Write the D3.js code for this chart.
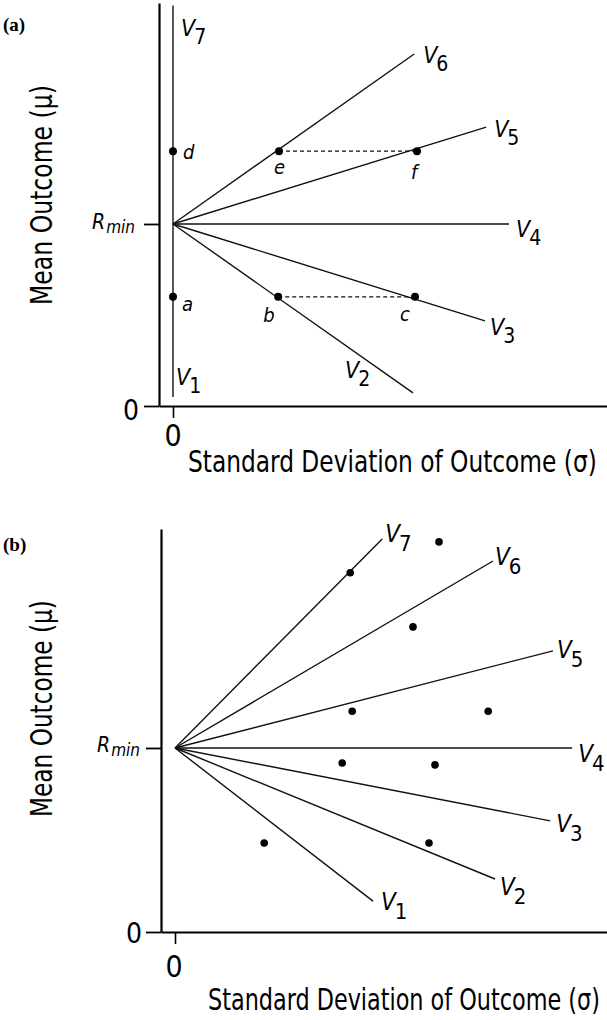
<!DOCTYPE html>
<html>
<head>
<meta charset="utf-8">
<script src="https://cdn.jsdelivr.net/npm/d3@7/dist/d3.min.js"></script>
<style>
  html, body { margin: 0; padding: 0; background: #fff; }
  svg { display: block; }
  .nar { font-family: "Liberation Sans Narrow", "Arial Narrow", "DejaVu Sans Condensed", "Liberation Sans", sans-serif; font-stretch: condensed; }
</style>
</head>
<body>
<svg id="chart" width="607" height="1020"></svg>
<script>
// ---------- data ----------
const rMin = 5;
const lineNames = ["1", "2", "3", "4", "5", "6", "7"]; // subscripts of V
// Panel (a): end points of each line (start is (0, rMin))
const aLineEndX = [0, 6.0, 7.8, 8.4, 7.83, 6.03, 0];
const aLineEndY = [0.25, 0.36, 2.34, 5, 7.66, 9.67, 11.0];
const aPointLabels = ["a", "b", "c", "d", "e", "f"];
const aPointX = [0, 2.63, 6.05, 0, 2.65, 6.1];
const aPointY = [3, 3, 3, 7, 7, 7];
const aDashedPairs = [["b", "c"], ["e", "f"]];
// Panel (b)
const bLineEndX = [4.95, 8.0, 9.38, 9.93, 9.45, 7.95, 5.18];
const bLineEndY = [0.84, 1.44, 3.02, 5.0, 7.64, 10.08, 10.68];
const bDotX = [4.38, 6.6, 5.95, 4.43, 7.83, 4.18, 6.5, 6.35, 2.23];
const bDotY = [9.76, 10.6, 8.29, 6.0, 6.0, 4.59, 4.54, 2.42, 2.42];
const xTickValues = [0];
const yTickValues = [0, rMin];
const xTitle = "Standard Deviation of Outcome (σ)";
const yTitle = "Mean Outcome (μ)";

// ---------- layout / styles ----------
const svg = d3.select("#chart");

const panels = [
  {
    tag: "(a)", tagPos: [3, 31],
    x: d3.scaleLinear().domain([-0.35, 10.85]).range([159, 607]),
    y: d3.scaleLinear().domain([0, 11.07]).range([406, 3]),
    endX: aLineEndX, endY: aLineEndY,
    lblOff: [[3, -12], [-68, -15], [5, 14], [7, 13], [8, 10], [9, 9], [8, 30]],
    vSize: 23, subSize: 21, subDy: 8,
    xTitlePos: [188, 472, 409], yTitlePos: [52, 305, 220],
    yZeroLbl: [139, 420], xZeroLbl: [173, 446],
    rminLbl: [92, 229]
  },
  {
    tag: "(b)", tagPos: [3, 551],
    x: d3.scaleLinear().domain([-0.35, 10.8]).range([161, 607]),
    y: d3.scaleLinear().domain([0, 10.95]).range([932, 529]),
    endX: bLineEndX, endY: bLineEndY,
    lblOff: [[8, 9], [5, 16], [6, 11], [6, 14], [4, 7], [2, 4], [3, 3]],
    vSize: 24, subSize: 22, subDy: 9,
    xTitlePos: [208, 1010, 392], yTitlePos: [52, 817, 217],
    yZeroLbl: [142, 943], xZeroLbl: [174, 977],
    rminLbl: [97, 752]
  }
];

// squeeze a text horizontally (in its own frame) to a target length
function fitText(sel, tx, ty, rot, target) {
  const w = sel.node().getComputedTextLength();
  const k = target / w;
  sel.attr("transform", `translate(${tx},${ty}) rotate(${rot}) scale(${k},1)`);
}

function drawPanel(p, idx) {
  const g = svg.append("g");
  const x = p.x, y = p.y;

  // panel tag
  g.append("text").attr("x", p.tagPos[0]).attr("y", p.tagPos[1])
    .style("font-family", "'Liberation Serif', 'DejaVu Serif', serif").attr("font-weight", "bold")
    .attr("font-size", 19).text(p.tag);

  // y axis
  const yAxis = d3.axisLeft(y).tickValues(yTickValues).tickSize(15).tickSizeOuter(0).tickFormat(() => "");
  const ya = g.append("g").attr("transform", `translate(${x(-0.35)},0)`).call(yAxis);
  ya.select(".domain").attr("stroke-width", 2.2);
  ya.selectAll(".tick line").attr("stroke-width", 1.8);

  // x axis
  const xAxis = d3.axisBottom(x).tickValues(xTickValues).tickSize(12).tickSizeOuter(0).tickFormat(() => "");
  const xa = g.append("g").attr("transform", `translate(0,${y(0)})`).call(xAxis);
  xa.select(".domain").attr("stroke-width", 2.2);
  xa.selectAll(".tick line").attr("stroke-width", 1.6);

  // tick labels
  g.append("text").attr("class", "nar").attr("x", p.yZeroLbl[0]).attr("y", p.yZeroLbl[1])
    .attr("text-anchor", "end").attr("font-size", 28).text("0");
  g.append("text").attr("class", "nar").attr("x", p.xZeroLbl[0]).attr("y", p.xZeroLbl[1])
    .attr("text-anchor", "middle").attr("font-size", 30).text("0");
  const rl = g.append("text").attr("class", "nar").attr("x", p.rminLbl[0]).attr("y", p.rminLbl[1])
    .attr("font-style", "italic");
  rl.append("tspan").attr("font-size", 21).text("R");
  rl.append("tspan").attr("font-size", 17).attr("dy", 4).attr("dx", 1).text("min");

  // titles
  const xt = g.append("text").attr("class", "nar").attr("font-size", 30).text(xTitle);
  fitText(xt, p.xTitlePos[0], p.xTitlePos[1], 0, p.xTitlePos[2]);
  const yt = g.append("text").attr("class", "nar").attr("font-size", 30).text(yTitle);
  fitText(yt, p.yTitlePos[0], p.yTitlePos[1], -90, p.yTitlePos[2]);

  // lines
  const lines = lineNames.map((n, i) => ({ n, ex: p.endX[i], ey: p.endY[i], off: p.lblOff[i] }));
  g.selectAll("line.v").data(lines).join("line").attr("class", "v")
    .attr("x1", x(0)).attr("y1", y(rMin))
    .attr("x2", d => x(d.ex)).attr("y2", d => y(d.ey))
    .attr("stroke", "#111").attr("stroke-width", 1.4);

  const lbl = g.selectAll("text.vl").data(lines).join("text").attr("class", "vl nar")
    .attr("x", d => x(d.ex) + d.off[0]).attr("y", d => y(d.ey) + d.off[1]);
  lbl.append("tspan").attr("font-style", "italic").attr("font-size", p.vSize).text("V");
  lbl.append("tspan").attr("font-size", p.subSize).attr("dy", p.subDy).attr("dx", -1).text(d => d.n);
}

panels.forEach(drawPanel);

// ---- panel (a) points ----
(function () {
  const p = panels[0], x = p.x, y = p.y;
  const pts = aPointLabels.map((l, i) => ({ l, x: aPointX[i], y: aPointY[i] }));
  const byL = Object.fromEntries(pts.map(d => [d.l, d]));
  const ptOff = { a: [9, 14], b: [-15, 25], c: [-15, 24], d: [10, 8], e: [-5, 23], f: [-6, 28] };
  const g = svg.append("g");
  g.selectAll("line.dash").data(aDashedPairs).join("line").attr("class", "dash")
    .attr("x1", d => x(byL[d[0]].x)).attr("y1", d => y(byL[d[0]].y))
    .attr("x2", d => x(byL[d[1]].x)).attr("y2", d => y(byL[d[1]].y))
    .attr("stroke", "#111").attr("stroke-width", 1.3).attr("stroke-dasharray", "4,3");
  g.selectAll("circle").data(pts).join("circle")
    .attr("cx", d => x(d.x)).attr("cy", d => y(d.y)).attr("r", 4).attr("fill", "#000");
  g.selectAll("text").data(pts).join("text").attr("class", "nar")
    .attr("x", d => x(d.x) + ptOff[d.l][0]).attr("y", d => y(d.y) + ptOff[d.l][1])
    .attr("font-style", "italic").attr("font-size", 20).text(d => d.l);
})();

// ---- panel (b) dots ----
(function () {
  const p = panels[1], x = p.x, y = p.y;
  const dots = bDotX.map((v, i) => ({ x: v, y: bDotY[i] }));
  svg.append("g").selectAll("circle").data(dots).join("circle")
    .attr("cx", d => x(d.x)).attr("cy", d => y(d.y)).attr("r", 3.8).attr("fill", "#000");
})();
</script>
</body>
</html>
